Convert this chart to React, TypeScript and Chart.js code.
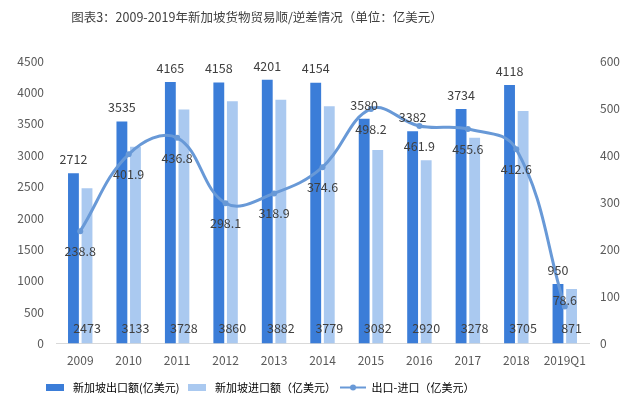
import { useEffect, useRef } from "react";
import { Chart, registerables } from "chart.js";

Chart.register(...registerables);

const categories = ["2009", "2010", "2011", "2012", "2013", "2014", "2015", "2016", "2017", "2018", "2019Q1"];
const exportValues = [2712, 3535, 4165, 4158, 4201, 4154, 3580, 3382, 3734, 4118, 950];
const importValues = [2473, 3133, 3728, 3860, 3882, 3779, 3082, 2920, 3278, 3705, 871];
const balanceValues = [238.8, 401.9, 436.8, 298.1, 318.9, 374.6, 498.2, 461.9, 455.6, 412.6, 78.6];
const seriesNames = ["新加坡出口额(亿美元)", "新加坡进口额（亿美元）", "出口-进口（亿美元）"];
const titleText = "图表3：2009-2019年新加坡货物贸易顺/逆差情况（单位：亿美元）";
const leftAxis = { min: 0, max: 4500, step: 500 };
const rightAxis = { min: 0, max: 600, step: 100 };

const DARK = "rgb(59,125,216)";
const LIGHT = "rgb(170,201,240)";
const LINE = "rgb(104,153,215)";
const FONT = "'Noto Sans CJK SC', 'Noto Sans', sans-serif";

function makeSwatch(kind: "rect" | "line", color: string): HTMLCanvasElement {
  const c = document.createElement("canvas");
  const ctx = c.getContext("2d")!;
  if (kind === "rect") {
    c.width = 18;
    c.height = 7;
    ctx.fillStyle = color;
    ctx.fillRect(0, 0, 18, 7);
  } else {
    c.width = 26;
    c.height = 9;
    ctx.strokeStyle = color;
    ctx.lineWidth = 2;
    ctx.beginPath();
    ctx.moveTo(0, 4.5);
    ctx.lineTo(26, 4.5);
    ctx.stroke();
    ctx.fillStyle = color;
    ctx.beginPath();
    ctx.arc(13, 4.5, 3, 0, Math.PI * 2);
    ctx.fill();
  }
  return c;
}

const labelPlugin = {
  id: "valueLabels",
  afterDatasetsDraw(chart: any) {
    const ctx = chart.ctx;
    const area = chart.chartArea;
    ctx.save();
    ctx.font = `12.5px ${FONT}`;
    ctx.fillStyle = "#404040";
    ctx.textAlign = "center";
    ctx.textBaseline = "middle";
    const m0 = chart.getDatasetMeta(0);
    m0.data.forEach((el: any, i: number) => {
      ctx.fillText(String(exportValues[i]), el.x, el.y - 14);
    });
    const m1 = chart.getDatasetMeta(1);
    m1.data.forEach((el: any, i: number) => {
      ctx.fillText(String(importValues[i]), el.x, area.bottom - 15);
    });
    const m2 = chart.getDatasetMeta(2);
    m2.data.forEach((el: any, i: number) => {
      let y = el.y + 20;
      if (y > area.bottom - 30) y = el.y - 6;
      ctx.fillText(balanceValues[i].toFixed(1), el.x, y);
    });
    ctx.restore();
  },
};

const shiftPlugin = {
  id: "shiftBlocks",
  afterLayout(chart: any) {
    if (chart.legend) {
      chart.legend.left = 0;
      chart.legend.right = 516;
    }
    if (chart.titleBlock) {
      chart.titleBlock.left = 0;
      chart.titleBlock.right = 514;
    }
  },
};

export default function App() {
  const ref = useRef<HTMLCanvasElement | null>(null);
  useEffect(() => {
    if (!ref.current) return;
    const swatches = [makeSwatch("rect", DARK), makeSwatch("rect", LIGHT), makeSwatch("line", LINE)];
    const plain = (v: any) => String(v);
    const chart = new Chart(ref.current, {
      type: "bar",
      data: {
        labels: categories,
        datasets: [
          {
            type: "bar",
            label: seriesNames[0],
            data: exportValues,
            backgroundColor: DARK,
            yAxisID: "y",
            order: 2,
            categoryPercentage: 0.56,
            barPercentage: 0.8,
          },
          {
            type: "bar",
            label: seriesNames[1],
            data: importValues,
            backgroundColor: LIGHT,
            yAxisID: "y",
            order: 2,
            categoryPercentage: 0.56,
            barPercentage: 0.8,
          },
          {
            type: "line",
            label: seriesNames[2],
            data: balanceValues,
            borderColor: LINE,
            backgroundColor: LINE,
            borderWidth: 3,
            pointRadius: 3,
            pointBackgroundColor: LINE,
            pointBorderWidth: 0,
            tension: 0.4,
            yAxisID: "y1",
            order: 1,
          },
        ] as any,
      },
      options: {
        responsive: false,
        animation: false,
        layout: { padding: { left: 0, right: 0, top: 0, bottom: 7 } },
        scales: {
          x: {
            grid: { display: false, drawTicks: false },
            border: { display: true, color: "#d9d9d9", width: 1 },
            ticks: { color: "#595959", font: { size: 12, family: FONT }, padding: 10 },
          },
          y: {
            position: "left",
            min: leftAxis.min,
            max: leftAxis.max,
            grid: { display: false, drawTicks: false },
            border: { display: false },
            ticks: { stepSize: leftAxis.step, color: "#595959", font: { size: 12, family: FONT }, padding: 12, callback: plain },
            afterFit: (s: any) => {
              s.width = 56;
            },
          },
          y1: {
            position: "right",
            min: rightAxis.min,
            max: rightAxis.max,
            grid: { display: false, drawTicks: false },
            border: { display: false },
            ticks: { stepSize: rightAxis.step, color: "#595959", font: { size: 12, family: FONT }, padding: 11, callback: plain },
            afterFit: (s: any) => {
              s.width = 51;
            },
          },
        },
        plugins: {
          title: {
            display: true,
            text: titleText,
            color: "#404040",
            font: { size: 12.5, family: FONT, weight: "normal" },
            padding: { top: 10, bottom: 36 },
          },
          legend: {
            display: true,
            position: "bottom",
            labels: {
              color: "#595959",
              font: { size: 11, family: FONT },
              usePointStyle: true,
              pointStyleWidth: 26,
              boxHeight: 9,
              padding: 4,
              generateLabels: () =>
                seriesNames.map((name, i) => ({
                  text: name,
                  pointStyle: swatches[i],
                  fillStyle: "transparent",
                  strokeStyle: "transparent",
                  lineWidth: 0,
                  hidden: false,
                  datasetIndex: i,
                })),
            },
          },
          tooltip: { enabled: false },
        },
      } as any,
      plugins: [labelPlugin, shiftPlugin],
    });
    return () => chart.destroy();
  }, []);
  return (
    <div style={{ position: "fixed", left: 0, top: 0, width: 640, height: 410, background: "#fff" }}>
      <canvas ref={ref} width={640} height={410} style={{ display: "block" }} />
    </div>
  );
}
